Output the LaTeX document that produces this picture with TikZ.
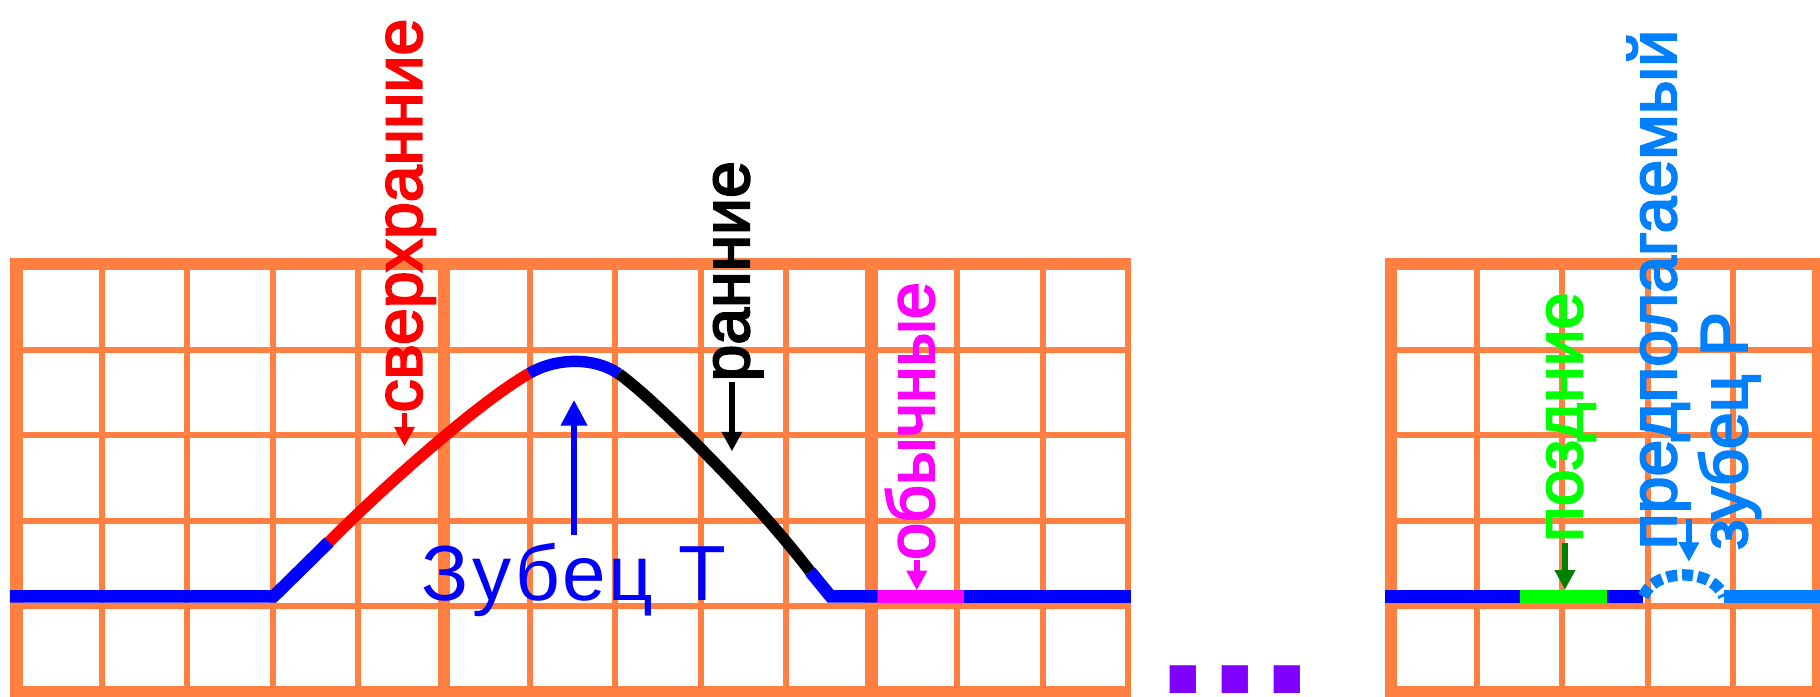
\documentclass[tikz,border=0pt]{standalone}
\usepackage{fontspec}
\setmainfont{Liberation Sans}
\newfontfamily\lblfont{Liberation Sans}[FakeBold=3]
\newfontfamily\wavefont{Liberation Sans}[LetterSpace=4]
\usetikzlibrary{arrows.meta}
\definecolor{gridorange}{RGB}{255,128,64}
\definecolor{tblue}{RGB}{0,0,255}
\definecolor{tred}{RGB}{255,0,0}
\definecolor{tpink}{RGB}{255,0,255}
\definecolor{tgreen}{RGB}{0,255,0}
\definecolor{tdkgreen}{RGB}{0,128,0}
\definecolor{tsky}{RGB}{0,128,255}
\definecolor{tviolet}{RGB}{128,0,255}
\begin{document}
\begin{tikzpicture}[
        gridthin/.style={draw=gridorange, line width=2pt, line cap=rect},
        gridthick/.style={draw=gridorange, line width=4.2pt},
        isoline/.style={line width=4.2pt},
        wave/.style={line width=3.8pt},
        vlabel/.style={rotate=90, anchor=base west, inner sep=0pt, text height=11.4pt, text depth=0pt, font=\lblfont\fontsize{22}{26}\selectfont},
        tlabel/.style={anchor=base, inner sep=0pt, text=tblue, font=\wavefont\fontsize{26}{30}\selectfont},
        dots/.style={anchor=base, inner sep=0pt, text=tviolet, font=\bfseries\fontsize{62}{62}\selectfont},
        pointer/.style={-{Triangle[length=6.5pt,width=6.5pt]}, line width=1.9pt},
        bigpointer/.style={-{Triangle[length=8.5pt,width=8.5pt]}, line width=1.8pt}
    ]

    \path[fill=white, use as bounding box] (-0.19,-0.054) rectangle (21.085,8.087);

    \foreach \x in {0,...,13} \draw[gridthin] (\x,0) -- (\x,5);
    \foreach \y in {0,...,5} \draw[gridthin] (0,\y) -- (13,\y);
    \draw[gridthick] (13.035,0) -- (0,0) -- (0,5) -- (13.035,5);
    \draw[gridthick] (5,0) -- (5,5) (10,0) -- (10,5);

    \foreach \x in {0,...,5} \draw[gridthin] (16.07+\x,0) -- (16.07+\x,5);
    \foreach \y in {0,...,5} \draw[gridthin] (16.07,\y) -- (21.07,\y);
    \draw[gridthick] (16.07,0) rectangle (21.07,5);

    \draw[isoline, tblue] (-0.074,1.115) -- (3.008,1.115) -- (3.658,1.754);
    \draw[wave, tred] (3.658,1.754) .. controls (4.3,2.4) and (5.4,3.38) .. (5.997,3.723);
    \draw[wave, tblue] (5.997,3.723) .. controls (6.3,3.9) and (6.75,3.92) .. (7.042,3.718);
    \draw[wave, black] (7.042,3.718) .. controls (7.4,3.47) and (8.6,2.3) .. (9.281,1.406);
    \draw[isoline, tblue] (9.281,1.406) -- (9.52,1.115) -- (10.07,1.115);
    \draw[isoline, tpink] (10.07,1.115) -- (11.08,1.115);
    \draw[isoline, tblue] (11.08,1.115) -- (13.035,1.115);

    \draw[isoline, tblue] (15.996,1.115) -- (17.58,1.115);
    \draw[isoline, tgreen] (17.58,1.115) -- (18.6,1.115);
    \draw[isoline, tblue] (18.6,1.115) -- (19.02,1.115);
    \draw[wave, tsky, dash pattern=on 3.6pt off 1.6pt] (19.02,1.115) .. controls (19.15,1.45) and (19.83,1.45) .. (19.96,1.115);
    \draw[isoline, tsky] (19.96,1.115) -- (21.2,1.115);

    \node[vlabel, text=tred] (sverh) at (4.739,3.259) {сверхранние};
    \node[vlabel, text=black] (rann) at (8.566,3.621) {ранние};
    \node[vlabel, text=tpink] (obych) at (10.727,1.537) {обычные};
    \node[vlabel, text=tgreen] (pozd) at (18.304,1.744) {поздние};
    \node[vlabel, text=tsky] (predp) at (19.403,1.661) {предполагаемый};
    \node[vlabel, text=tsky] (zubP) at (20.231,1.655) {зубец Р};
    \node[tlabel] (zubT) at (6.52,1.072) {Зубец Т};
    \node[dots] (ellip) at (14.247,-0.02) {...};

    \coordinate (sverhpt) at ([yshift=-3.9mm]sverh.west);
    \coordinate (rannpt) at ([yshift=-8.1mm]rann.west);
    \coordinate (obychpt) at ([yshift=-3.5mm]obych.west);
    \coordinate (pozdpt) at ([yshift=-5.5mm]pozd.west);
    \coordinate (parc) at (19.552,1.52);
    \coordinate (tpeak) at (6.52,3.411);

    \draw[pointer, tred] (sverh.west) -- (sverhpt);
    \draw[pointer, black] (rann.west) -- (rannpt);
    \draw[pointer, tpink] (obych.west) -- (obychpt);
    \draw[pointer, tdkgreen] (pozd.west) -- (pozdpt);
    \draw[pointer, tsky] ([xshift=1.5mm,yshift=3.6mm]predp.base west) -- (parc);
    \draw[bigpointer, tblue, shorten <=2.5pt] (zubT) -- (tpeak);

\end{tikzpicture}
\end{document}
